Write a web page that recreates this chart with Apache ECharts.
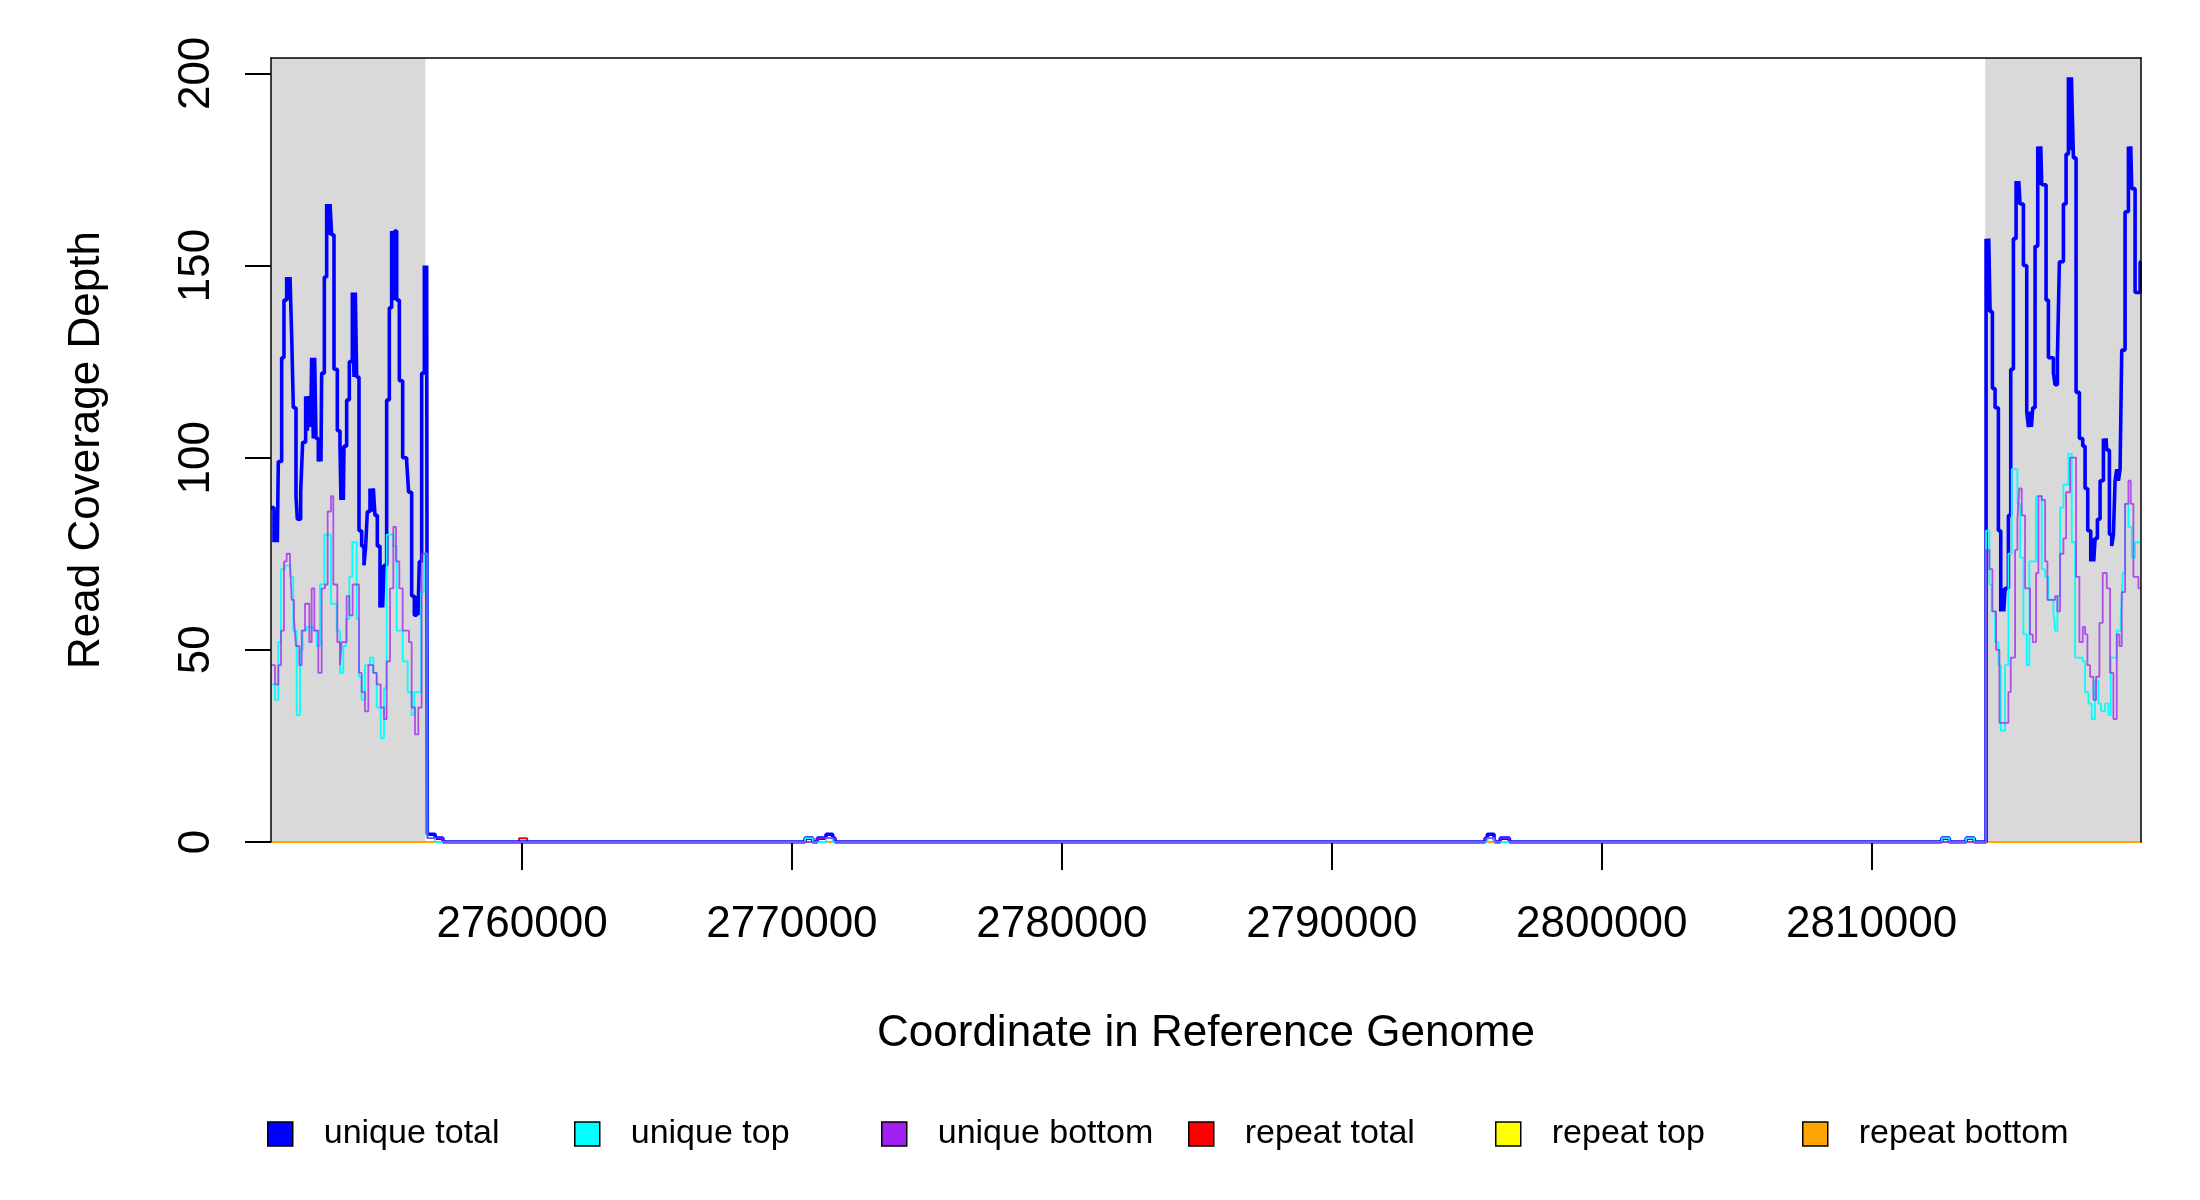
<!DOCTYPE html>
<html><head><meta charset="utf-8">
<script src="https://cdn.jsdelivr.net/npm/echarts@6/dist/echarts.min.js"></script>
<style>html,body{margin:0;padding:0;background:#fff}#c{width:2200px;height:1200px}</style>
</head><body><div id="c"></div>
<script>
const xTicks = [2760000, 2770000, 2780000, 2790000, 2800000, 2810000];
const yTicks = [0, 50, 100, 150, 200];
const xMin = 2750700, xMax = 2819980;
const shadedRegions = [[2750700, 2756420], [2814210, 2819980]];
const seriesNames = ['unique total', 'unique top', 'unique bottom', 'repeat total', 'repeat top', 'repeat bottom'];
const seriesColors = ['#0000FF', '#00FFFF', '#A020F0', '#FF0000', '#FFFF00', '#FFA500'];

const uniqueTotalPos = [2750700,2750811,2750885,2750934,2750971,2751095,2751181,2751280,2751354,2751404,2751465,2751527,2751626,2751675,2751799,2751873,2751984,2752046,2752107,2752169,2752206,2752268,2752317,2752367,2752453,2752515,2752552,2752577,2752676,2752762,2752824,2752886,2752947,2753034,2753157,2753256,2753293,2753355,2753380,2753404,2753503,2753602,2753713,2753775,2753824,2753874,2753960,2754059,2754145,2754207,2754269,2754368,2754442,2754491,2754553,2754639,2754738,2754800,2754837,2754886,2754985,2755084,2755170,2755232,2755281,2755356,2755455,2755578,2755726,2755800,2755911,2756010,2756097,2756146,2756195,2756282,2756381,2756430,2756467,
  2756492,2756780,2757070,
  2770485,2770770,2770940,2771263,2771510,2771596,
  2795680,2795765,2796010,2796050,2796240,2796580,
  2812600,2812880,2813500,2813800,
  2814240,2814302,2814339,2814389,2814475,2814574,2814697,2814784,2814845,2814895,2814944,2815068,2815154,2815253,2815352,2815401,2815451,2815500,2815624,2815747,2815809,2815871,2815920,2815970,2816056,2816155,2816216,2816266,2816303,2816463,2816550,2816735,2816797,2816883,2816957,2817106,2817204,2817291,2817353,2817402,2817476,2817575,2817698,2817822,2817908,2818007,2818118,2818180,2818229,2818279,2818365,2818464,2818588,2818649,2818686,2818711,2818810,2818896,2818958,2819020,2819082,2819143,2819205,2819267,2819390,2819514,2819563,2819600,2819637,2819761,2819946,2819980];
const uniqueTotalVal = [87,78,86,78,99,126,141,147,141,147,132,113,90,84,91,104,116,107,116,108,126,105,126,105,99,105,99,122,147,166,158,166,158,123,107,103,89,103,89,103,115,125,143,121,143,121,81,77,72,77,86,92,86,92,85,77,61,72,61,72,115,139,159,141,159,141,120,100,99,91,64,59,64,59,73,122,150,122,150,
  2,1,0,
  1,0,1,2,1,0,
  1,2,1,0,1,0,
  1,0,1,0,
  157,138,157,138,118,113,81,60,66,60,66,85,123,157,172,166,172,166,150,112,108,112,108,113,155,181,171,181,171,141,126,122,119,126,151,166,179,199,180,199,178,117,105,103,92,81,73,79,73,79,84,94,105,102,105,102,80,77,80,94,97,94,97,128,164,181,170,181,170,143,151,151];

const uniqueTopPos = [2750700,2750848,2750971,2751070,2751218,2751404,2751527,2751651,2751774,2751873,2752021,2752268,2752392,2752515,2752676,2752923,2753133,2753256,2753380,2753478,2753602,2753713,2753874,2753960,2754059,2754182,2754368,2754491,2754615,2754763,2754886,2754985,2755232,2755356,2755578,2755763,2755911,2756010,2756257,2756368,
  2756492,2756780,
  2770485,2770770,2771263,2771510,
  2795765,2796010,
  2812600,2812880,2813500,2813800,
  2814240,2814364,2814450,2814574,2814697,2814784,2814944,2815068,2815191,2815401,2815500,2815624,2815747,2815846,2816093,2816303,2816426,2816550,2816735,2816797,2816883,2816982,2817106,2817291,2817414,2817538,2817822,2817908,2818032,2818155,2818279,2818403,2818501,2818649,2818773,2818859,2819082,2819230,2819304,2819390,2819514,2819637,2819761,2819980];
const uniqueTopVal = [41,37,52,71,72,69,55,33,50,55,56,55,51,67,80,62,55,44,51,58,69,78,58,43,37,46,48,44,35,27,40,80,77,55,47,39,33,39,65,75,
  1,0,
  1,0,1,0,
  1,0,
  1,0,1,0,
  81,67,60,52,46,29,46,75,97,88,74,54,46,73,90,71,69,63,60,55,64,87,93,101,78,48,47,39,36,32,42,36,34,36,33,48,55,58,70,88,82,74,78,78];

const uniqueBottomPos = [2750700,2750848,2750971,2751070,2751181,2751280,2751404,2751465,2751552,2751626,2751749,2751836,2751959,2752120,2752206,2752305,2752453,2752577,2752700,2752799,2752923,2753009,2753157,2753256,2753318,2753503,2753602,2753725,2753960,2754059,2754182,2754306,2754491,2754615,2754763,2754886,2754985,2755109,2755232,2755331,2755455,2755578,2755812,2755911,2756035,2756158,2756282,
  2756492,2757070,
  2770940,2771596,
  2795680,2796050,2796240,2796580,
  2814240,2814364,2814475,2814611,2814734,2815068,2815154,2815315,2815401,2815475,2815562,2815685,2815871,2815970,2816093,2816179,2816303,2816426,2816513,2816797,2816883,2816982,2817106,2817204,2817353,2817575,2817698,2817822,2817908,2817995,2818094,2818217,2818316,2818440,2818563,2818711,2818835,2818958,2819082,2819180,2819267,2819390,2819514,2819600,2819699,2819884,2819980];
const uniqueBottomVal = [46,41,46,55,73,75,73,63,58,51,46,55,62,52,66,55,44,66,67,86,90,67,52,46,52,64,59,67,44,39,34,46,44,41,35,32,47,66,82,73,66,55,52,35,28,35,75,
  1,0,
  1,0,
  1,0,1,0,
  76,71,60,50,31,39,48,76,84,92,85,66,54,52,70,90,89,73,63,64,60,75,79,91,100,69,52,56,54,46,43,37,43,57,70,66,44,32,54,51,65,88,94,88,69,66,66];

const repeatTotalPos = [2750700, 2759890, 2760190, 2819980];
const repeatTotalVal = [0, 1, 0, 0];
const repeatTopPos = [2750700, 2819980];
const repeatTopVal = [0, 0];
const repeatBottomPos = [2750700, 2819980];
const repeatBottomVal = [0, 0];

function pairs(p, v) { return p.map((x, i) => [x, v[i]]); }

const FONT = 'Liberation Sans';
const chart = echarts.init(document.getElementById('c'), null, {renderer: 'canvas'});

const lineDefs = [
  {name: 'repeat total', pos: repeatTotalPos, val: repeatTotalVal, color: seriesColors[3], width: 2, z: 3, op: 1},
  {name: 'repeat top', pos: repeatTopPos, val: repeatTopVal, color: seriesColors[4], width: 2, z: 3, op: 1},
  {name: 'repeat bottom', pos: repeatBottomPos, val: repeatBottomVal, color: seriesColors[5], width: 2, z: 3, op: 1},
  {name: 'unique total', pos: uniqueTotalPos, val: uniqueTotalVal, color: seriesColors[0], width: 3.6, z: 4, op: 1},
  {name: 'unique top', pos: uniqueTopPos, val: uniqueTopVal, color: seriesColors[1], width: 1.8, z: 4, op: 1},
  {name: 'unique bottom', pos: uniqueBottomPos, val: uniqueBottomVal, color: seriesColors[2], width: 1.8, z: 4, op: 0.75}
];

const series = [{
  name: 'shade', type: 'line', data: [], z: 1, silent: true,
  markArea: {
    silent: true,
    itemStyle: {color: '#D9D9D9'},
    data: shadedRegions.map(r => [{xAxis: r[0]}, {xAxis: r[1]}])
  }
}].concat(lineDefs.map(d => ({
  name: d.name, type: 'line', step: 'end', showSymbol: false, symbol: 'none',
  data: pairs(d.pos, d.val), z: d.z, color: d.color,
  itemStyle: {color: d.color},
  lineStyle: {color: d.color, width: d.width, opacity: d.op},
  animation: false
})));

const legendLeft = [267, 574, 881, 1188, 1495, 1802];
const legends = seriesNames.map((n, i) => ({
  data: [{name: n, itemStyle: {color: seriesColors[i], borderColor: '#000', borderWidth: 1.5}}],
  left: legendLeft[i], top: 1117, padding: 0, icon: 'rect', itemWidth: 25, itemHeight: 24,
  selectedMode: false,
  textStyle: {fontFamily: FONT, fontSize: 34, color: '#000', padding: [0, 0, 0, 26], lineHeight: 34}
}));

const axisLabelStyle = {fontFamily: FONT, fontSize: 44, color: '#000'};

chart.setOption({
  animation: false,
  backgroundColor: '#fff',
  grid: {left: 271, top: 58, width: 1870, height: 784, show: false},
  legend: legends,
  xAxis: [{
    type: 'value', min: xMin, max: xMax, position: 'bottom', z: 0,
    axisLine: {show: true, onZero: false, lineStyle: {color: '#000', width: 1.5}},
    axisTick: {show: true, inside: false, length: 28, customValues: xTicks, lineStyle: {color: '#000', width: 2}},
    axisLabel: Object.assign({customValues: xTicks, margin: 61, lineHeight: 44, formatter: v => String(v)}, axisLabelStyle),
    splitLine: {show: false},
    name: 'Coordinate in Reference Genome', nameLocation: 'middle', nameGap: 170,
    nameTextStyle: {fontFamily: FONT, fontSize: 44, color: '#000', lineHeight: 44}
  }, {
    type: 'value', min: xMin, max: xMax, position: 'top', z: 10,
    axisLine: {show: true, onZero: false, lineStyle: {color: '#000', width: 1.5}},
    axisTick: {show: false}, axisLabel: {show: false}, splitLine: {show: false}
  }],
  yAxis: [{
    type: 'value', min: 0, max: 204, position: 'left', z: 10,
    axisLine: {show: true, onZero: false, lineStyle: {color: '#000', width: 1.5}},
    axisTick: {show: true, inside: false, length: 26, customValues: yTicks, lineStyle: {color: '#000', width: 2}},
    axisLabel: Object.assign({customValues: yTicks, rotate: 90, margin: 52, lineHeight: 44}, axisLabelStyle),
    splitLine: {show: false},
    name: 'Read Coverage Depth', nameLocation: 'middle', nameGap: 162,
    nameTextStyle: {fontFamily: FONT, fontSize: 44, color: '#000', lineHeight: 44}
  }, {
    type: 'value', min: 0, max: 204, position: 'right', z: 10,
    axisLine: {show: true, onZero: false, lineStyle: {color: '#000', width: 1.5}},
    axisTick: {show: false}, axisLabel: {show: false}, splitLine: {show: false}
  }],
  series: series
});
</script></body></html>
